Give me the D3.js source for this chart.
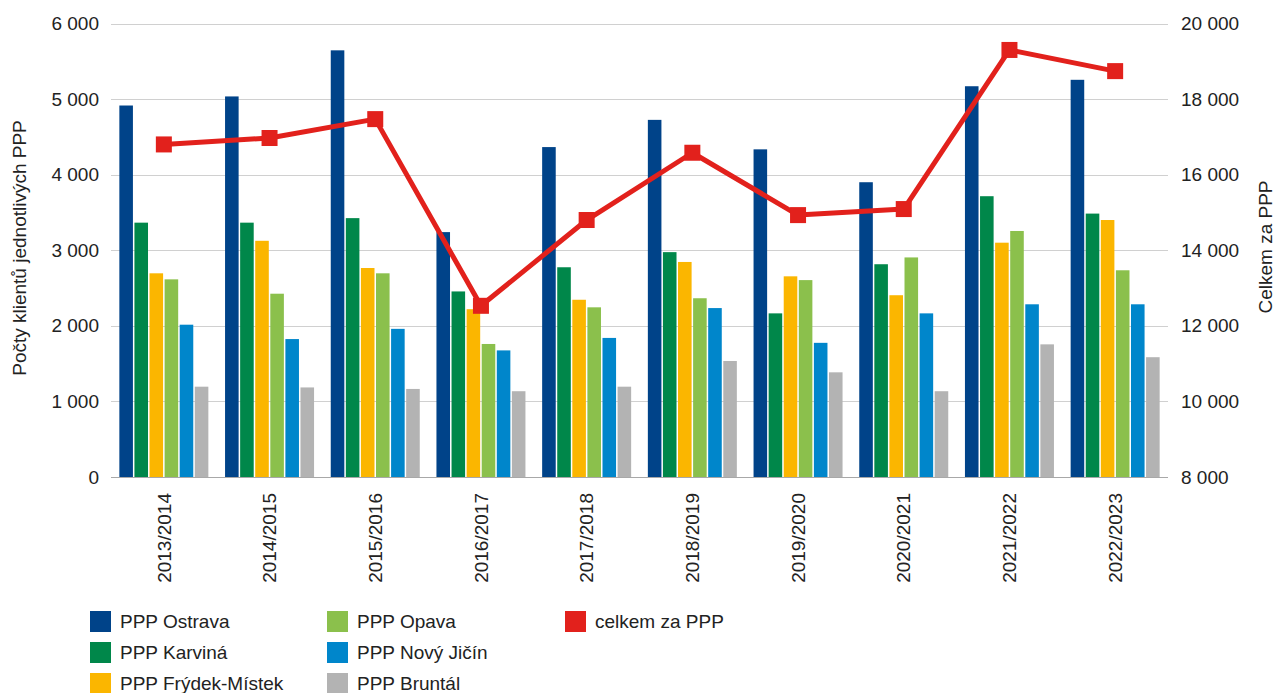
<!DOCTYPE html>
<html>
<head>
<meta charset="utf-8">
<script src="https://cdn.jsdelivr.net/npm/d3@7"></script>
<style>
  html, body { margin: 0; padding: 0; background: #fff; }
  svg { display: block; }
  text { font-family: "Liberation Sans", Arial, Helvetica, sans-serif; fill: #222; }
</style>
</head>
<body>
<svg id="chart" width="1277" height="693"></svg>
<script>
const categories = ["2013/2014","2014/2015","2015/2016","2016/2017","2017/2018","2018/2019","2019/2020","2020/2021","2021/2022","2022/2023"];
const seriesNames = ["PPP Ostrava","PPP Karviná","PPP Frýdek-Místek","PPP Opava","PPP Nový Jičín","PPP Bruntál"];
const ostrava   = [4915, 5035, 5645, 3240, 4365, 4725, 4335, 3900, 5170, 5255];
const karvina   = [3365, 3365, 3425, 2455, 2775, 2975, 2165, 2815, 3715, 3485];
const frydek    = [2695, 3125, 2765, 2220, 2345, 2845, 2655, 2405, 3100, 3400];
const opava     = [2615, 2425, 2695, 1760, 2245, 2365, 2605, 2905, 3255, 2735];
const novyJicin = [2015, 1825, 1960, 1675, 1840, 2235, 1775, 2165, 2285, 2285];
const bruntal   = [1195, 1185, 1165, 1135, 1195, 1535, 1385, 1135, 1755, 1585];
const celkem    = [16800, 16970, 17470, 12530, 14800, 16580, 14930, 15090, 19300, 18740];
const lineName = "celkem za PPP";
const leftTicks = [0, 1000, 2000, 3000, 4000, 5000, 6000];
const rightTicks = [8000, 10000, 12000, 14000, 16000, 18000, 20000];
const leftTitle = "Počty klientů jednotlivých PPP";
const rightTitle = "Celkem za PPP";

const seriesValues = [ostrava, karvina, frydek, opava, novyJicin, bruntal];
const colors = ["#004389", "#00874a", "#fbb600", "#8bc04c", "#0086cb", "#b3b3b3"];
const lineColor = "#e2211c";

const svg = d3.select("#chart");
const plot = { left: 111, right: 1168, top: 23.5, bottom: 477 };
const fmt = v => d3.format(",")(v).replace(/,/g, " ");

const x0 = d3.scaleBand().domain(categories).range([plot.left, plot.right])
  .paddingInner(0.158).paddingOuter(0.079);
const x1 = d3.scaleBand().domain(d3.range(seriesNames.length)).range([0, x0.bandwidth()])
  .paddingInner(0.1).paddingOuter(0);
const yL = d3.scaleLinear().domain([0, 6000]).range([plot.bottom, plot.top]);
const yR = d3.scaleLinear().domain([8000, 20000]).range([plot.bottom, plot.top]);

// gridlines
svg.append("g").selectAll("line").data(leftTicks.filter(t => t > 0)).join("line")
  .attr("x1", plot.left).attr("x2", plot.right)
  .attr("y1", d => Math.round(yL(d)) + 0.5).attr("y2", d => Math.round(yL(d)) + 0.5)
  .attr("stroke", "#d0d0d0").attr("stroke-width", 1.2);

// bars
const gBars = svg.append("g");
categories.forEach((c, ci) => {
  seriesValues.forEach((vals, si) => {
    gBars.append("rect")
      .attr("x", x0(c) + x1(si))
      .attr("width", x1.bandwidth())
      .attr("y", yL(vals[ci]))
      .attr("height", yL(0) - yL(vals[ci]))
      .attr("fill", colors[si]);
  });
});

// baseline
svg.append("line").attr("x1", plot.left).attr("x2", plot.right)
  .attr("y1", Math.round(yL(0)) + 0.5).attr("y2", Math.round(yL(0)) + 0.5)
  .attr("stroke", "#a8a8a8").attr("stroke-width", 1.2);

// left axis
const leftAxis = d3.axisLeft(yL).tickValues(leftTicks).tickFormat(fmt).tickSize(0).tickPadding(0);
const gl = svg.append("g").attr("transform", `translate(${plot.left - 12},0)`).call(leftAxis);
gl.select(".domain").remove();
gl.selectAll("text").attr("font-size", 19).attr("fill", "#222")
  .style("font-family", '"Liberation Sans", Arial, sans-serif');

// right axis
const rightAxis = d3.axisRight(yR).tickValues(rightTicks).tickFormat(fmt).tickSize(0).tickPadding(0);
const gr = svg.append("g").attr("transform", `translate(1181,0)`).call(rightAxis);
gr.select(".domain").remove();
gr.selectAll("text").attr("font-size", 19).attr("fill", "#222")
  .style("font-family", '"Liberation Sans", Arial, sans-serif');

// x axis labels (rotated)
const xAxis = d3.axisBottom(x0).tickSize(0).tickPadding(0);
const gx = svg.append("g").attr("transform", `translate(0,${plot.bottom})`).call(xAxis);
gx.select(".domain").remove();
gx.selectAll("text")
  .attr("font-size", 19).attr("fill", "#222")
  .style("font-family", '"Liberation Sans", Arial, sans-serif')
  .attr("text-anchor", "end")
  .attr("dy", "0.35em")
  .attr("transform", "translate(0,16) rotate(-90)")
  .attr("x", 0).attr("y", 0);

// line
const cx = c => x0(c) + x0.bandwidth() / 2;
svg.append("path")
  .datum(categories.map((c, i) => [cx(c), yR(celkem[i])]))
  .attr("d", d3.line())
  .attr("fill", "none").attr("stroke", lineColor).attr("stroke-width", 5)
  .attr("stroke-linejoin", "round");
svg.append("g").selectAll("rect").data(categories).join("rect")
  .attr("x", (c) => cx(c) - 8).attr("y", (c, i) => yR(celkem[i]) - 8)
  .attr("width", 16).attr("height", 16).attr("fill", lineColor);

// axis titles
svg.append("text").attr("transform", "translate(26,248) rotate(-90)")
  .attr("text-anchor", "middle").attr("font-size", 19).text(leftTitle);
svg.append("text").attr("transform", "translate(1272,247) rotate(-90)")
  .attr("text-anchor", "middle").attr("font-size", 19).text(rightTitle);

// legend
const legendItems = [
  { name: seriesNames[0], color: colors[0], col: 0, row: 0 },
  { name: seriesNames[1], color: colors[1], col: 0, row: 1 },
  { name: seriesNames[2], color: colors[2], col: 0, row: 2 },
  { name: seriesNames[3], color: colors[3], col: 1, row: 0 },
  { name: seriesNames[4], color: colors[4], col: 1, row: 1 },
  { name: seriesNames[5], color: colors[5], col: 1, row: 2 },
  { name: lineName, color: lineColor, col: 2, row: 0 }
];
const colX = [90, 327, 565];
const rowY = [611, 642, 673];
const lg = svg.append("g");
legendItems.forEach(it => {
  lg.append("rect").attr("x", colX[it.col]).attr("y", rowY[it.row])
    .attr("width", 21).attr("height", 21).attr("fill", it.color);
  lg.append("text").attr("x", colX[it.col] + 30).attr("y", rowY[it.row] + 10.5)
    .attr("dy", "0.35em").attr("font-size", 19).text(it.name);
});
</script>
</body>
</html>
